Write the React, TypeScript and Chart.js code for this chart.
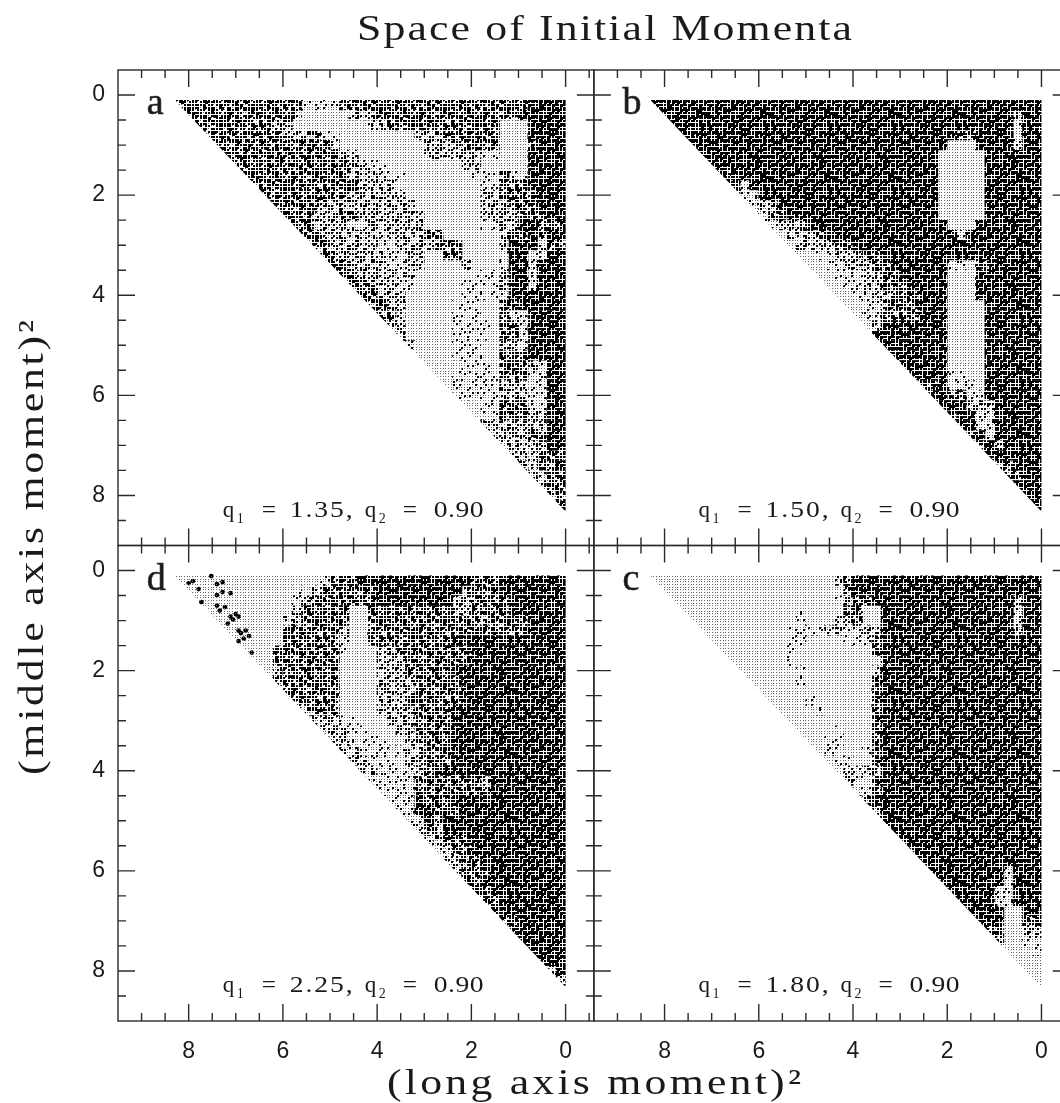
import React, { useEffect, useRef } from "react";
import { Chart, registerables } from "chart.js";

Chart.register(...registerables);

const titleText = "Space of Initial Momenta";
const xTitle = "(long axis moment)\u00b2";
const yTitle = "(middle axis moment)\u00b2";
const tickValuesX = [9, 8.5, 8, 7.5, 7, 6.5, 6, 5.5, 5, 4.5, 4, 3.5, 3, 2.5, 2, 1.5, 1, 0.5, 0, -0.5];
const tickValuesY = [0, 0.5, 1, 1.5, 2, 2.5, 3, 3.5, 4, 4.5, 5, 5.5, 6, 6.5, 7, 7.5, 8, 8.5];
const majorTicks = [0, 2, 4, 6, 8];

const q1Values = ["1.35", "1.50", "2.25", "1.80"];
const q2Values = ["0.90", "0.90", "0.90", "0.90"];
const panelLetters = ["a", "b", "d", "c"];

// Density map. One string per row (row r is at y = 0.2 + 0.2 r).
// Each token is level:endColumn, column c is at x = 8.3 - 0.2 c; a row starts on the hypotenuse.
const panelA = [
  "4:14 2:18 4:38 5:42", "4:13 3:14 1:19 3:21 4:36 3:37 5:42", "4:11 3:13 1:21 3:23 4:35 1:38 5:42",
  "4:12 3:15 4:16 2:18 1:26 3:29 4:35 1:38 5:42", "4:17 3:18 1:27 3:31 4:35 1:38 4:39 5:42",
  "4:18 3:20 1:27 3:33 2:35 1:38 5:42", "4:19 3:21 2:23 1:31 3:33 1:38 5:42",
  "4:19 3:22 2:25 1:32 3:33 2:35 4:36 2:38 5:42", "4:20 3:24 1:33 2:35 4:38 5:42",
  "4:19 3:25 1:33 3:35 4:39 5:42", "4:16 3:26 1:33 3:36 4:39 5:42",
  "4:15 3:18 4:20 3:27 1:33 3:37 4:40 5:42", "4:15 3:19 2:21 3:27 1:33 2:35 3:37 5:39 4:42",
  "4:16 3:22 2:23 3:27 4:29 1:35 3:36 4:38 5:39 4:40 5:42", "4:17 3:22 2:24 3:28 4:31 1:35 3:36 5:39 2:40 4:42",
  "4:18 3:23 2:25 3:27 1:29 4:31 1:35 2:36 5:38 2:40 5:42", "4:19 3:23 2:25 3:27 1:31 3:32 1:35 2:36 5:38 2:39 5:42",
  "4:20 3:24 2:25 3:26 1:32 2:35 3:36 5:38 2:39 5:42", "4:21 3:24 2:26 1:31 2:35 3:36 5:38 2:39 5:42",
  "4:22 3:25 1:31 2:36 5:42", "4:23 3:25 1:30 2:33 1:35 4:37 5:42", "4:24 3:25 1:30 2:33 1:35 4:36 2:38 5:42",
  "3:25 1:30 2:34 1:35 4:37 2:38 5:42", "3:25 1:30 2:34 1:35 4:37 2:38 5:42", "3:26 1:30 2:33 1:35 3:37 2:38 5:42",
  "3:26 1:30 2:34 1:35 4:38 5:42", "1:31 2:34 1:35 4:38 3:39 2:40 5:42", "1:30 2:35 4:38 2:40 5:42",
  "1:30 2:35 3:38 2:40 5:42", "1:30 2:35 3:38 2:40 5:42", "1:33 2:35 4:38 2:40 5:42", "1:33 2:35 4:38 3:40 5:42",
  "1:33 3:40 5:42", "1:34 3:38 4:40 5:42", "1:35 3:37 2:38 3:40 5:42", "1:36 3:38 2:39 4:42", "1:37 4:38 2:39 4:41 5:42",
  "2:38 3:39 2:40 4:42", "2:39 3:40 4:42", "1:40 3:41 4:42", "1:41 5:42",
];
const panelB = [
  "5:42", "5:39 3:40 5:42", "5:39 2:40 5:42", "5:33 4:35 5:39 2:40 5:42", "5:32 1:35 5:39 2:40 5:42",
  "5:31 1:36 5:42", "5:31 1:36 5:42", "4:9 5:31 1:36 5:42", "4:10 2:11 5:31 1:36 5:42", "3:10 2:12 5:31 1:36 5:42",
  "2:12 3:14 5:31 1:36 5:42", "2:13 4:15 5:31 1:36 5:42", "2:14 3:17 5:32 1:35 5:42", "1:15 3:18 4:20 5:33 2:34 5:42",
  "1:16 3:20 4:22 5:42", "1:18 2:20 3:23 4:25 5:42", "1:19 2:21 3:24 4:26 5:32 2:34 1:35 4:37 5:42",
  "1:20 2:23 3:25 4:27 5:32 1:35 5:42", "1:21 2:23 3:25 4:28 5:32 1:35 5:42", "1:22 2:24 3:26 4:29 5:32 1:35 5:42",
  "1:23 2:25 4:29 5:32 1:36 5:42", "1:23 2:25 4:29 5:32 1:36 5:42", "1:24 3:25 5:32 1:36 5:42", "3:24 5:32 1:36 5:42",
  "5:32 1:36 5:42", "5:32 1:36 5:42", "1:27 5:32 1:36 5:42", "1:28 5:32 2:34 1:36 5:42", "1:29 4:31 5:32 2:35 1:36 5:42",
  "1:30 5:32 4:34 2:36 5:42", "1:31 5:34 3:37 5:42", "1:32 4:33 5:35 2:37 5:42", "1:33 5:35 2:37 5:42",
  "1:34 4:35 5:36 2:37 5:42", "1:35 4:36 5:37 3:38 5:42", "1:36 5:42", "1:37 4:39 5:42", "1:38 4:40 5:42",
  "1:39 5:42", "1:40 5:42", "2:41 5:42",
];
const panelD = [
  "1:16 2:17 4:20 5:32 4:35 5:42", "1:13 2:14 1:15 3:16 4:22 5:31 3:32 4:35 5:42", "1:13 2:14 3:15 4:22 5:30 3:32 4:36 5:42",
  "1:13 3:14 4:19 1:21 4:30 3:32 4:36 5:42", "1:12 3:14 4:19 1:21 4:33 3:34 4:38 5:42", "1:12 4:18 3:19 1:21 4:38 5:42",
  "1:12 4:18 2:19 1:21 4:30 5:42", "1:11 4:18 2:19 1:22 3:24 4:32 5:42", "1:11 4:18 1:22 3:25 4:32 5:42",
  "1:11 3:12 4:18 1:22 3:25 4:30 5:42", "1:11 4:18 1:22 3:26 4:31 5:42", "1:12 4:18 1:22 3:26 4:31 5:42",
  "3:13 4:18 1:22 3:25 4:31 5:42", "3:15 4:18 1:22 3:26 4:30 5:42", "1:15 3:18 2:20 1:23 3:26 4:30 5:42",
  "1:16 3:19 2:21 1:24 3:26 4:30 5:42", "1:17 3:19 2:23 1:25 3:27 4:30 5:42", "1:18 3:20 2:25 3:27 4:30 5:42",
  "1:19 3:21 2:24 1:25 3:27 4:30 5:42", "1:20 3:22 2:26 3:27 4:28 5:42", "1:21 2:26 4:33 3:34 5:42", "1:22 2:26 4:34 5:42",
  "1:23 2:26 5:27 4:30 5:42", "1:24 2:26 5:28 4:31 5:42", "1:25 2:27 5:28 3:29 5:42", "1:26 2:27 4:28 3:29 5:42",
  "1:27 2:28 3:29 4:32 5:42", "1:28 2:30 4:32 5:42", "1:29 3:31 4:33 5:42", "1:30 3:31 4:34 5:42", "1:31 4:33 5:42",
  "1:32 4:34 5:42", "1:33 4:35 5:42", "1:34 4:35 5:42", "2:35 4:37 5:42", "3:36 5:42", "3:37 5:42", "3:38 5:42", "3:39 5:42",
  "3:40 3:41 5:42", "1:41 3:42",
];
const panelC = [
  "1:20 3:21 4:22 5:42", "1:21 4:22 5:42", "1:20 2:21 3:22 4:24 5:39 3:40 5:42", "1:16 2:17 1:21 4:23 1:25 5:39 2:40 5:42",
  "1:16 2:17 1:20 3:22 4:23 1:25 5:39 2:40 5:42", "1:15 2:19 3:21 2:23 3:25 5:39 3:40 5:42", "1:15 2:17 1:21 2:24 4:25 5:42",
  "1:15 2:16 1:24 4:25 5:42", "1:15 2:16 1:25 4:26 5:42", "1:16 2:17 1:24 3:25 5:42", "1:16 2:17 1:24 4:25 5:42",
  "1:24 4:25 5:42", "1:17 2:18 1:24 4:25 5:42", "1:18 2:19 1:24 4:25 5:42", "1:24 4:25 5:42", "1:20 2:21 1:24 4:25 5:42",
  "1:19 2:21 1:24 4:25 5:42", "1:19 2:21 1:23 2:24 4:25 5:42", "1:20 2:22 1:24 4:25 5:42", "1:21 3:22 2:23 3:25 5:42",
  "1:21 3:22 2:23 1:24 4:25 5:42", "1:22 2:24 4:25 5:42", "1:23 4:24 5:42", "1:24 3:25 5:42", "3:25 5:42", "4:26 5:42",
  "4:27 5:42", "4:28 5:42", "4:29 5:42", "5:38 2:39 5:42", "5:38 2:39 5:42", "5:37 2:39 5:42", "5:37 2:39 5:42",
  "4:34 5:38 1:40 5:42", "3:35 5:38 1:40 4:42", "3:36 4:38 1:40 3:42", "3:37 4:38 1:40 2:42", "3:38 1:41 2:42", "2:39 1:42",
  "1:42", "1:42",
];

// Isolated large dots of panel d
const dotsDX = [8.0, 7.91, 7.79, 7.73, 7.52, 7.4, 7.28, 7.4, 7.28, 7.11, 7.4, 7.23, 7.34, 7.0, 6.94, 7.11, 7.06, 7.17, 6.94, 6.89, 6.79, 6.72, 6.83, 6.94, 6.66];
const dotsDY = [0.25, 0.21, 0.37, 0.63, 0.11, 0.27, 0.23, 0.49, 0.43, 0.45, 0.7, 0.73, 0.8, 0.87, 0.92, 0.92, 0.98, 1.06, 1.2, 1.25, 1.2, 1.31, 1.36, 1.41, 1.64];

// Stipple texture: a digit below the level's threshold is a black dot, below blobThreshold a larger one
const stipple = [
  "381605927416", "729148360285", "056372814963", "914860275130", "263597041786", "840219638452",
  "175346902679", "692078513240", "308951467825", "547263180396", "186420795317", "739815264058",
];
const levelThreshold = [0, 0, 2, 5, 8, 10];
const blobThreshold = [0, 0, 0, 0, 1, 3];

function makePattern(level: number): CanvasPattern {
  const tile = document.createElement("canvas");
  tile.width = 64;
  tile.height = 64;
  const c = tile.getContext("2d")!;
  for (let r = 0; r < 24; r++) {
    for (let k = 0; k < 24; k++) {
      const px = Math.round((k * 8) / 3);
      const py = Math.round((r * 8) / 3);
      const t = Number(stipple[(r + (k >= 12 ? 5 : 0)) % 12][(k + (r >= 12 ? 7 : 0)) % 12]);
      if (t < blobThreshold[level]) {
        c.fillStyle = "#000";
        c.fillRect(px, py, 3, 3);
      } else if (t < levelThreshold[level]) {
        c.fillStyle = "#000";
        c.fillRect(px, py, 2, 2);
      } else {
        c.fillStyle = "#666";
        c.fillRect(px, py, 1, 1);
      }
    }
  }
  return c.createPattern(tile, "repeat")!;
}

function cells(rows: string[]) {
  const out: { x: number; y: number }[][] = [[], [], [], [], [], []];
  rows.forEach((row, r) => {
    let col = r;
    row.split(" ").forEach((tok) => {
      const [lvl, end] = tok.split(":").map(Number);
      for (; col < end; col++) out[lvl].push({ x: 8.3 - 0.2 * col, y: 0.2 + 0.2 * r });
    });
  });
  return out;
}

function fitted(ctx: CanvasRenderingContext2D, text: string, x0: number, x1: number, y: number, font: string, hs = 1) {
  ctx.save();
  ctx.font = font;
  (ctx as any).letterSpacing = "0px";
  const w = ctx.measureText(text).width;
  (ctx as any).letterSpacing = `${((x1 - x0) / hs - w) / Math.max(1, text.length - 1)}px`;
  ctx.textAlign = "left";
  ctx.textBaseline = "alphabetic";
  ctx.translate(x0, y);
  ctx.scale(hs, 1);
  ctx.fillText(text, 0, 0);
  ctx.restore();
}

const framePlugin = {
  id: "frameAndText",
  beforeDatasetDraw(chart: any, args: any) {
    const meta = args.meta;
    if (chart.data.datasets[args.index].isDots) return;
    const { xScale: xs, yScale: ys } = meta;
    const ctx = chart.ctx;
    ctx.save();
    ctx.beginPath();
    ctx.moveTo(xs.getPixelForValue(8.32), ys.getPixelForValue(0.08));
    ctx.lineTo(xs.getPixelForValue(0), ys.getPixelForValue(0.08));
    ctx.lineTo(xs.getPixelForValue(0), ys.getPixelForValue(8.32));
    ctx.closePath();
    ctx.clip();
  },
  afterDatasetDraw(chart: any, args: any) {
    if (chart.data.datasets[args.index].isDots) return;
    chart.ctx.restore();
  },
  afterDraw(chart: any) {
    const ctx: CanvasRenderingContext2D = chart.ctx;
    ctx.save();
    ctx.strokeStyle = "#2a2a2a";
    ctx.fillStyle = "#1a1a1a";
    ctx.lineWidth = 1.4;
    const major = 17;
    const minor = 8;
    const pairs = [["x1", "y1"], ["x2", "y1"], ["x1", "y2"], ["x2", "y2"]];
    pairs.forEach(([xid, yid], p) => {
      const xs = chart.scales[xid];
      const ys = chart.scales[yid];
      ctx.strokeRect(xs.left, ys.top, xs.right - xs.left, ys.bottom - ys.top);
      ctx.beginPath();
      xs.ticks.forEach((t: any) => {
        const len = majorTicks.includes(t.value) ? major : minor;
        const px = xs.getPixelForValue(t.value);
        ctx.moveTo(px, ys.top);
        ctx.lineTo(px, ys.top + len);
        ctx.moveTo(px, ys.bottom);
        ctx.lineTo(px, ys.bottom - len);
      });
      ys.ticks.forEach((t: any) => {
        const len = majorTicks.includes(t.value) ? major : minor;
        const py = ys.getPixelForValue(t.value);
        ctx.moveTo(xs.left, py);
        ctx.lineTo(xs.left + len, py);
        ctx.moveTo(xs.right, py);
        ctx.lineTo(xs.right - len, py);
      });
      ctx.stroke();

      // panel letter
      const lx = xs.getPixelForValue(8.0) - 42;
      const ly = ys.getPixelForValue(0.38);
      ctx.font = "38px 'Liberation Serif'";
      ctx.textAlign = "left";
      ctx.textBaseline = "alphabetic";
      ctx.lineWidth = 0.6;
      ctx.fillText(panelLetters[p], lx, ly);
      ctx.strokeText(panelLetters[p], lx, ly);
      ctx.lineWidth = 1.4;

      // q label
      const ox = xs.getPixelForValue(8) + 34;
      const by = ys.getPixelForValue(8.43);
      const main = "23px 'Liberation Serif'";
      const sub = "14px 'Liberation Serif'";
      ctx.font = main;
      ctx.fillText("q", ox, by);
      ctx.font = sub;
      ctx.fillText("1", ox + 14, by + 6);
      fitted(ctx, "=", ox + 39, ox + 53, by, main, 1.1);
      fitted(ctx, q1Values[p] + ",", ox + 67, ox + 130, by, main, 1.2);
      ctx.font = main;
      ctx.fillText("q", ox + 142, by);
      ctx.font = sub;
      ctx.fillText("2", ox + 156, by + 6);
      fitted(ctx, "=", ox + 180, ox + 194, by, main, 1.1);
      fitted(ctx, q2Values[p], ox + 211, ox + 261, by, main, 1.2);
    });

    fitted(ctx, titleText, 357, 852, 40, "35px 'Liberation Serif'", 1.25);
    fitted(ctx, xTitle, 387, 801, 1094, "35px 'Liberation Serif'", 1.25);
    ctx.save();
    ctx.translate(43, 775);
    ctx.rotate(-Math.PI / 2);
    fitted(ctx, yTitle, 0, 455, 0, "35px 'Liberation Serif'", 1.25);
    ctx.restore();
    ctx.restore();
  },
};

export default function App() {
  const ref = useRef<HTMLCanvasElement>(null);
  useEffect(() => {
    const patterns = [1, 2, 3, 4, 5].map(makePattern);
    const panels = [
      { rows: panelA, x: "x1", y: "y1" },
      { rows: panelB, x: "x2", y: "y1" },
      { rows: panelD, x: "x1", y: "y2" },
      { rows: panelC, x: "x2", y: "y2" },
    ];
    const datasets: any[] = [];
    panels.forEach((p) => {
      const c = cells(p.rows);
      [1, 2, 3, 4, 5].forEach((lvl) => {
        datasets.push({
          data: c[lvl],
          xAxisID: p.x,
          yAxisID: p.y,
          pointStyle: "rect",
          pointRadius: 7.25,
          pointBorderWidth: 0,
          pointBackgroundColor: patterns[lvl - 1],
          showLine: false,
        });
      });
    });
    datasets.push({
      isDots: true,
      data: dotsDX.map((x, i) => ({ x, y: dotsDY[i] })),
      xAxisID: "x1",
      yAxisID: "y2",
      pointStyle: "circle",
      pointRadius: 2.4,
      pointBorderWidth: 0,
      pointBackgroundColor: "#000",
      showLine: false,
    });

    const tickFont = { family: "'Liberation Sans'", size: 23 };
    const labelCb = (v: any) => (majorTicks.includes(v) ? String(v) : "");
    const xAxis = (weight: number) => ({
      type: "linear",
      position: "bottom",
      stack: "cols",
      stackWeight: 1,
      weight,
      reverse: true,
      min: -0.6,
      max: 9.5,
      grid: { display: false, drawTicks: false },
      border: { display: false },
      afterBuildTicks: (s: any) => {
        s.ticks = tickValuesX.map((value) => ({ value }));
      },
      afterFit: (s: any) => {
        s.height = 82;
        s.paddingLeft = 0;
        s.paddingRight = 0;
      },
      ticks: { autoSkip: false, maxRotation: 0, padding: 17, font: tickFont, color: "#1a1a1a", callback: labelCb },
    });
    const yAxis = (weight: number) => ({
      type: "linear",
      position: "left",
      stack: "rows",
      stackWeight: 1,
      weight,
      reverse: true,
      min: -0.5,
      max: 9,
      grid: { display: false, drawTicks: false },
      border: { display: false },
      afterBuildTicks: (s: any) => {
        s.ticks = tickValuesY.map((value) => ({ value }));
      },
      afterFit: (s: any) => {
        s.width = 118;
      },
      ticks: { autoSkip: false, padding: 13, font: tickFont, color: "#1a1a1a", callback: labelCb },
    });

    const chart = new Chart(ref.current!, {
      type: "scatter",
      data: { datasets },
      options: {
        responsive: false,
        animation: false,
        events: [],
        layout: { padding: { top: 70, right: 0, bottom: 0, left: 0 } },
        plugins: { legend: { display: false }, title: { display: false }, tooltip: { enabled: false } },
        scales: { x1: xAxis(1), x2: xAxis(2), y1: yAxis(2), y2: yAxis(1) } as any,
      },
      plugins: [framePlugin as any],
    });
    return () => chart.destroy();
  }, []);
  return (
    <div style={{ position: "absolute", left: 0, top: 0, width: 1060, height: 1103, overflow: "hidden" }}>
      <canvas ref={ref} width={1077} height={1103} style={{ display: "block", background: "#fff" }} />
    </div>
  );
}
